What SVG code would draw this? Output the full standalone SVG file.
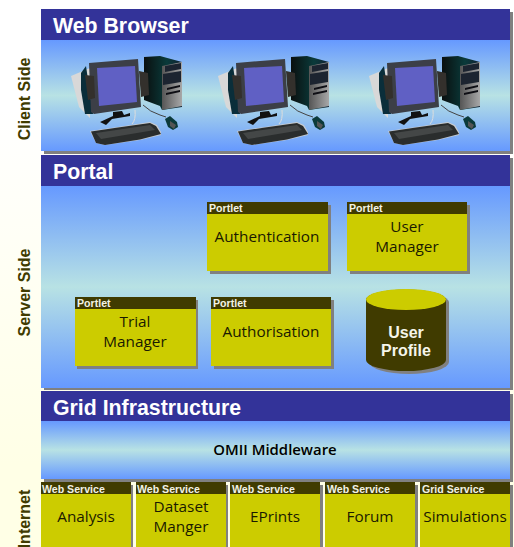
<svg xmlns="http://www.w3.org/2000/svg" xmlns:xlink="http://www.w3.org/1999/xlink" width="514" height="547" viewBox="0 0 514 547">
<style>
.hd{fill:#333399}
.sh{fill:#808080}
.box{fill:#cccc00}
.bar{fill:#403b00}
.title{font:bold 21.300px "Liberation Sans",Arial,sans-serif;fill:#fff}
.side{font:bold 16px "Liberation Sans",Arial,sans-serif;fill:#403b00;text-anchor:middle}
.tag{font:bold 10.600px "Liberation Sans",Arial,sans-serif;fill:#f2f2e6}
.lbl{font:15.300px "Open Sans","Noto Sans",sans-serif;fill:#1a1a00;text-anchor:middle}
.db{font:bold 16px "Liberation Sans",Arial,sans-serif;fill:#f5f5ea;text-anchor:middle}
.mid{font:600 14.900px "Open Sans","Noto Sans",sans-serif;fill:#000;text-anchor:middle}
</style>
<defs>
<linearGradient id="bg" x1="0" y1="0" x2="0" y2="1"><stop offset="0.2" stop-color="#fff"/><stop offset="0.85" stop-color="#ffffe6"/></linearGradient>
<linearGradient id="pn" x1="0" y1="0" x2="0" y2="1"><stop offset="0" stop-color="#6699ff"/><stop offset="0.5" stop-color="#b8e2e4"/><stop offset="1" stop-color="#6699ff"/></linearGradient>
<linearGradient id="tw" x1="0" y1="0" x2="1" y2="0"><stop offset="0" stop-color="#0a0f0f"/><stop offset="0.6" stop-color="#0a3a3a"/><stop offset="1" stop-color="#112233"/></linearGradient>
<linearGradient id="sv" x1="0" y1="0" x2="1" y2="0"><stop offset="0" stop-color="#555"/><stop offset="1" stop-color="#a8a8a8"/></linearGradient>
<g id="pc">
<path d="M71 76L90 68 90 118 79 107Z" fill="#d8d8d8"/>
<path d="M144 57L160 56 182 62 182 107 162 110 160 106 144 100Z" fill="url(#tw)"/>
<path d="M162 66L182 62 182 106 162 110Z" fill="url(#sv)"/>
<path d="M165 66L181 63 181 69 165 72ZM163 74L181 71 181 82 163 85Z" fill="#1c2430"/>
<path d="M167 88L180 85 180 87 167 90ZM166 93L180 90 180 92 166 95Z" fill="#0e0e14"/>
<path d="M143 105Q150 112 160 115L166 117" fill="none" stroke="#444" stroke-width="1"/>
<path d="M135 110Q136 120 132 124" fill="none" stroke="#ddd" stroke-width="1"/>
<path d="M81 73L86 66 93 114 85 114 81 90Z" fill="#0a2e3a"/>
<path d="M89 63L138 59 141 107 94 114 91 112Z" fill="#3c3f47"/>
<path d="M97 68L135 66 137 102 99 106Z" fill="#6060c4"/>
<path d="M85 75L94 76 95 98 88 100Z" fill="#33302c"/>
<path d="M139 71L148 73 149 95 141 97Z" fill="#33302c"/>
<path d="M100 122L113 116 113 112 122 111 124 115 130 113 130 116 118 118 112 119 106 125Z" fill="#111"/>
<path d="M90 131L118 127 150 122 157 125 161 132 161 135 140 140 105 145 96 143Z" fill="#c8ccd0"/>
<path d="M91 131.500L118 127.500 150 123 156 126 161 134 140 139.500 105 145 96 143Z" fill="#2a2d2d"/>
<path d="M96 133L150 125 155 130 101 139Z" fill="#444747"/>
<path d="M165 119L170 116 177 122 178 127 173 130 168 127Z" fill="#0c3a3a"/>
<path d="M170 121L176 125 174 129 170 126Z" fill="#555"/>
</g>
</defs>
<rect width="514" height="547" fill="url(#bg)"/>

<g id="client-side">
<rect class="sh" x="44" y="12" width="469" height="142"/>
<rect class="hd" x="41" y="9" width="469" height="31"/>
<rect x="41" y="40" width="469" height="111" fill="url(#pn)"/>
<text class="title" x="53" y="33">Web Browser</text>
<text class="side" transform="translate(30 99) rotate(-90)">Client Side</text>
<use xlink:href="#pc" href="#pc"/>
<use xlink:href="#pc" href="#pc" x="147"/>
<use xlink:href="#pc" href="#pc" x="298"/>
</g>

<g id="portal">
<rect class="sh" x="44" y="158" width="469" height="232"/>
<rect class="hd" x="41" y="155" width="469" height="31"/>
<rect x="41" y="186" width="469" height="202" fill="url(#pn)"/>
<text class="title" x="53" y="179">Portal</text>
<text class="side" transform="translate(30 292.500) rotate(-90)">Server Side</text>
</g>

<g id="authentication">
<rect class="sh" x="210" y="205" width="121" height="69"/><rect class="box" x="207" y="202" width="121" height="69"/><rect class="bar" x="207" y="202" width="121" height="12"/>
<text class="tag" x="209" y="212">Portlet</text>
<text class="lbl" x="267" y="242">Authentication</text>
</g>
<g id="user-manager">
<rect class="sh" x="350" y="205" width="120" height="69"/><rect class="box" x="347" y="202" width="120" height="69"/><rect class="bar" x="347" y="202" width="120" height="12"/>
<text class="tag" x="349" y="212">Portlet</text>
<text class="lbl" x="407" y="232">User</text><text class="lbl" x="407" y="252">Manager</text>
</g>
<g id="trial-manager">
<rect class="sh" x="77" y="300" width="121" height="69"/><rect class="box" x="75" y="297" width="121" height="69"/><rect class="bar" x="75" y="297" width="121" height="12"/>
<text class="tag" x="77" y="307">Portlet</text>
<text class="lbl" x="135" y="327">Trial</text><text class="lbl" x="135" y="347">Manager</text>
</g>
<g id="authorisation">
<rect class="sh" x="214" y="300" width="120" height="69"/><rect class="box" x="211" y="297" width="120" height="69"/><rect class="bar" x="211" y="297" width="120" height="12"/>
<text class="tag" x="213" y="307">Portlet</text>
<text class="lbl" x="271" y="337">Authorisation</text>
</g>
<g id="user-profile">
<path class="sh" d="M369 302A40 10 0 0 1 449 302V362A40 12 0 0 1 369 362Z"/>
<path class="bar" d="M366 299.500A40 10 0 0 1 446 299.500V360A40 11 0 0 1 366 360Z"/>
<ellipse class="box" cx="406" cy="299.500" rx="40" ry="10.500"/>
<text class="db" x="406" y="338">User</text><text class="db" x="406" y="356">Profile</text>
</g>

<g id="grid-infrastructure">
<rect class="sh" x="44" y="394" width="469" height="88"/>
<rect class="hd" x="41" y="391" width="469" height="30"/>
<rect x="41" y="421" width="469" height="58" fill="url(#pn)"/>
<text class="title" x="53" y="415">Grid Infrastructure</text>
<text class="mid" x="275" y="455">OMII Middleware</text>
</g>

<text class="side" transform="translate(30 519) rotate(-90)">Internet</text>

<g id="analysis">
<rect class="sh" x="44" y="485" width="89" height="62"/><rect class="box" x="41" y="482" width="90" height="65"/><rect class="bar" x="41" y="482" width="90" height="12"/>
<text class="tag" x="42" y="493">Web Service</text>
<text class="lbl" x="86" y="522">Analysis</text>
</g>
<g id="dataset-manager">
<rect class="sh" x="139" y="485" width="89" height="62"/><rect class="box" x="136" y="482" width="90" height="65"/><rect class="bar" x="136" y="482" width="90" height="12"/>
<text class="tag" x="137" y="493">Web Service</text>
<text class="lbl" x="181" y="512">Dataset</text><text class="lbl" x="181" y="532">Manger</text>
</g>
<g id="eprints">
<rect class="sh" x="233" y="485" width="90" height="62"/><rect class="box" x="230" y="482" width="90" height="65"/><rect class="bar" x="230" y="482" width="90" height="12"/>
<text class="tag" x="232" y="493">Web Service</text>
<text class="lbl" x="275" y="522">EPrints</text>
</g>
<g id="forum">
<rect class="sh" x="328" y="485" width="90" height="62"/><rect class="box" x="325" y="482" width="90" height="65"/><rect class="bar" x="325" y="482" width="90" height="12"/>
<text class="tag" x="327" y="493">Web Service</text>
<text class="lbl" x="370" y="522">Forum</text>
</g>
<g id="simulations">
<rect class="sh" x="423" y="485" width="90" height="62"/><rect class="box" x="420" y="482" width="90" height="65"/><rect class="bar" x="420" y="482" width="90" height="12"/>
<text class="tag" x="422" y="493">Grid Service</text>
<text class="lbl" x="465" y="522">Simulations</text>
</g>
</svg>
